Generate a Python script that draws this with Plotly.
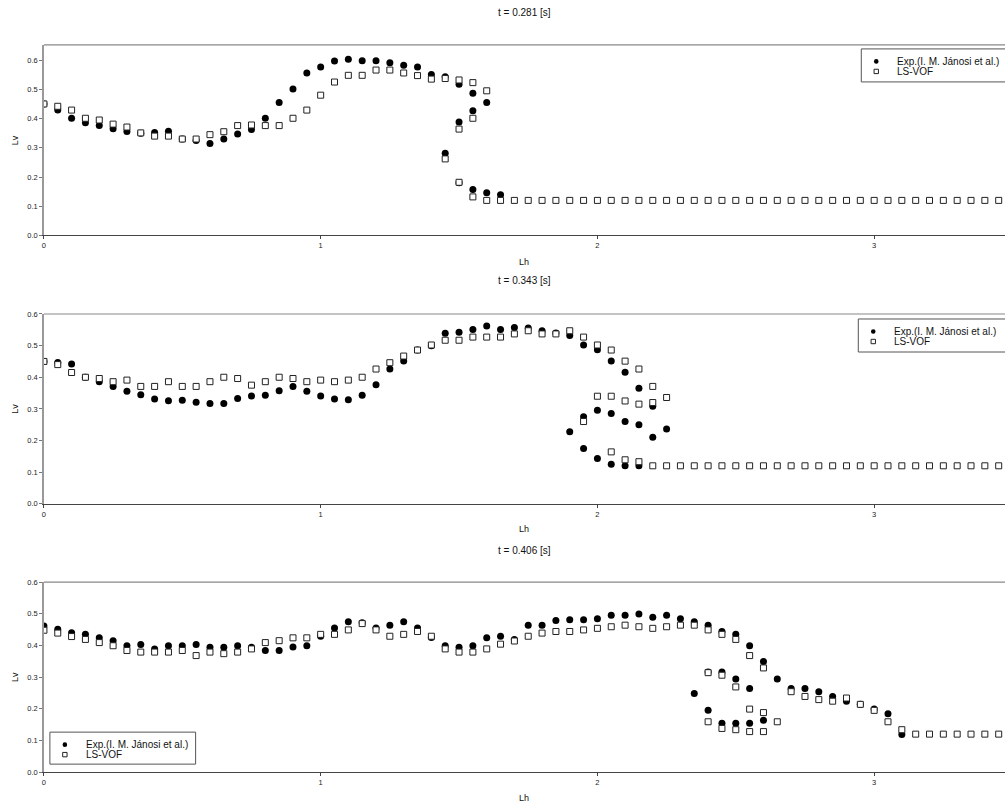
import plotly.graph_objects as go

# ---------------- t = 0.281 s ----------------
t1_exp_lh = [0.00, 0.05, 0.10, 0.15, 0.20, 0.25, 0.30, 0.35, 0.40, 0.45, 0.50, 0.55, 0.60, 0.65, 0.70, 0.75,
             0.80, 0.85, 0.90, 0.95, 1.00, 1.05, 1.10, 1.15, 1.20, 1.25, 1.30, 1.35, 1.40, 1.45, 1.50, 1.55, 1.60,
             1.55, 1.50, 1.45, 1.50, 1.55, 1.60, 1.65]
t1_exp_lv = [0.450, 0.429, 0.401, 0.386, 0.376, 0.365, 0.356, 0.350, 0.352, 0.357, 0.330, 0.325, 0.315, 0.330,
             0.347, 0.363, 0.401, 0.455, 0.501, 0.556, 0.576, 0.597, 0.603, 0.598, 0.598, 0.591, 0.582, 0.576,
             0.551, 0.543, 0.517, 0.487, 0.455,
             0.427, 0.388, 0.281, 0.180, 0.157, 0.146, 0.139]
t1_vof_lh = [0.00, 0.05, 0.10, 0.15, 0.20, 0.25, 0.30, 0.35, 0.40, 0.45, 0.50, 0.55, 0.60, 0.65, 0.70, 0.75,
             0.80, 0.85, 0.90, 0.95, 1.00, 1.05, 1.10, 1.15, 1.20, 1.25, 1.30, 1.35, 1.40, 1.45, 1.50, 1.55, 1.60,
             1.55, 1.50, 1.45, 1.50, 1.55,
             1.60, 1.65, 1.70, 1.75, 1.80, 1.85, 1.90, 1.95, 2.00, 2.05, 2.10, 2.15, 2.20, 2.25, 2.30, 2.35,
             2.40, 2.45, 2.50, 2.55, 2.60, 2.65, 2.70, 2.75, 2.80, 2.85, 2.90, 2.95, 3.00, 3.05, 3.10, 3.15,
             3.20, 3.25, 3.30, 3.35, 3.40, 3.45]
t1_vof_lv = [0.450, 0.442, 0.429, 0.401, 0.395, 0.381, 0.371, 0.351, 0.340, 0.340, 0.330, 0.330, 0.345, 0.355,
             0.376, 0.378, 0.376, 0.376, 0.401, 0.429, 0.480, 0.525, 0.548, 0.548, 0.566, 0.566, 0.556, 0.547,
             0.535, 0.537, 0.532, 0.523, 0.495,
             0.401, 0.364, 0.262, 0.182, 0.132,
             0.12, 0.12, 0.12, 0.12, 0.12, 0.12, 0.12, 0.12, 0.12, 0.12, 0.12, 0.12, 0.12, 0.12, 0.12, 0.12,
             0.12, 0.12, 0.12, 0.12, 0.12, 0.12, 0.12, 0.12, 0.12, 0.12, 0.12, 0.12, 0.12, 0.12, 0.12, 0.12,
             0.12, 0.12, 0.12, 0.12, 0.12, 0.12]

# ---------------- t = 0.343 s ----------------
t2_exp_lh = [0.00, 0.05, 0.10, 0.15, 0.20, 0.25, 0.30, 0.35, 0.40, 0.45, 0.50, 0.55, 0.60, 0.65, 0.70, 0.75,
             0.80, 0.85, 0.90, 0.95, 1.00, 1.05, 1.10, 1.15, 1.20, 1.25, 1.30, 1.35, 1.40, 1.45, 1.50, 1.55,
             1.60, 1.65, 1.70, 1.75, 1.80, 1.85, 1.90, 1.95, 2.00, 2.05, 2.10, 2.15, 2.20, 2.25,
             2.20, 2.15, 2.10, 2.05, 2.00, 1.95, 1.90,
             1.95, 2.00, 2.05, 2.10, 2.15]
t2_exp_lv = [0.450, 0.447, 0.442, 0.400, 0.386, 0.371, 0.356, 0.345, 0.331, 0.326, 0.327, 0.321, 0.317, 0.317,
             0.333, 0.341, 0.343, 0.357, 0.371, 0.356, 0.341, 0.331, 0.329, 0.343, 0.376, 0.426, 0.451, 0.486,
             0.500, 0.539, 0.542, 0.551, 0.562, 0.551, 0.557, 0.556, 0.547, 0.540, 0.532, 0.502, 0.487, 0.451,
             0.416, 0.365, 0.308, 0.236,
             0.210, 0.250, 0.260, 0.285, 0.296, 0.275, 0.228,
             0.175, 0.143, 0.125, 0.120, 0.120]
t2_vof_lh = [0.00, 0.05, 0.10, 0.15, 0.20, 0.25, 0.30, 0.35, 0.40, 0.45, 0.50, 0.55, 0.60, 0.65, 0.70, 0.75,
             0.80, 0.85, 0.90, 0.95, 1.00, 1.05, 1.10, 1.15, 1.20, 1.25, 1.30, 1.35, 1.40, 1.45, 1.50, 1.55,
             1.60, 1.65, 1.70, 1.75, 1.80, 1.85, 1.90, 1.95, 2.00, 2.05, 2.10, 2.15, 2.20, 2.25,
             2.20, 2.15, 2.10, 2.05, 2.00, 1.95,
             2.05, 2.10, 2.15,
             2.20, 2.25, 2.30, 2.35, 2.40, 2.45, 2.50, 2.55, 2.60, 2.65, 2.70, 2.75, 2.80, 2.85, 2.90, 2.95,
             3.00, 3.05, 3.10, 3.15, 3.20, 3.25, 3.30, 3.35, 3.40, 3.45]
t2_vof_lv = [0.450, 0.440, 0.415, 0.400, 0.396, 0.386, 0.391, 0.371, 0.371, 0.386, 0.371, 0.371, 0.386, 0.400,
             0.396, 0.375, 0.386, 0.400, 0.396, 0.386, 0.391, 0.386, 0.391, 0.400, 0.426, 0.446, 0.467, 0.486,
             0.502, 0.517, 0.517, 0.527, 0.527, 0.527, 0.537, 0.547, 0.537, 0.537, 0.547, 0.527, 0.502, 0.486,
             0.451, 0.426, 0.371, 0.336,
             0.320, 0.315, 0.325, 0.340, 0.340, 0.260,
             0.164, 0.139, 0.133,
             0.12, 0.12, 0.12, 0.12, 0.12, 0.12, 0.12, 0.12, 0.12, 0.12, 0.12, 0.12, 0.12, 0.12, 0.12, 0.12,
             0.12, 0.12, 0.12, 0.12, 0.12, 0.12, 0.12, 0.12, 0.12, 0.12]

# ---------------- t = 0.406 s ----------------
t3_exp_lh = [0.00, 0.05, 0.10, 0.15, 0.20, 0.25, 0.30, 0.35, 0.40, 0.45, 0.50, 0.55, 0.60, 0.65, 0.70, 0.75,
             0.80, 0.85, 0.90, 0.95, 1.00, 1.05, 1.10, 1.15, 1.20, 1.25, 1.30, 1.35, 1.40, 1.45, 1.50, 1.55,
             1.60, 1.65, 1.70, 1.75, 1.80, 1.85, 1.90, 1.95, 2.00, 2.05, 2.10, 2.15, 2.20, 2.25, 2.30, 2.35,
             2.40, 2.45, 2.50, 2.55, 2.60, 2.65, 2.70, 2.75, 2.80, 2.85, 2.90, 2.95, 3.00, 3.05, 3.10,
             2.55, 2.50, 2.45, 2.40, 2.35,
             2.40, 2.45, 2.50, 2.55, 2.60]
t3_exp_lv = [0.461, 0.451, 0.440, 0.435, 0.424, 0.415, 0.399, 0.403, 0.389, 0.399, 0.399, 0.403, 0.394, 0.394,
             0.399, 0.394, 0.384, 0.384, 0.395, 0.399, 0.429, 0.455, 0.475, 0.472, 0.455, 0.464, 0.475, 0.455,
             0.425, 0.399, 0.394, 0.399, 0.424, 0.429, 0.419, 0.464, 0.464, 0.479, 0.481, 0.481, 0.484, 0.495,
             0.495, 0.499, 0.489, 0.495, 0.484, 0.475, 0.464, 0.444, 0.435, 0.399, 0.349, 0.294, 0.264, 0.264,
             0.254, 0.239, 0.224, 0.214, 0.199, 0.184, 0.119,
             0.264, 0.294, 0.316, 0.316, 0.248,
             0.195, 0.154, 0.154, 0.154, 0.164]
t3_vof_lh = [0.00, 0.05, 0.10, 0.15, 0.20, 0.25, 0.30, 0.35, 0.40, 0.45, 0.50, 0.55, 0.60, 0.65, 0.70, 0.75,
             0.80, 0.85, 0.90, 0.95, 1.00, 1.05, 1.10, 1.15, 1.20, 1.25, 1.30, 1.35, 1.40, 1.45, 1.50, 1.55,
             1.60, 1.65, 1.70, 1.75, 1.80, 1.85, 1.90, 1.95, 2.00, 2.05, 2.10, 2.15, 2.20, 2.25, 2.30, 2.35,
             2.40, 2.45, 2.50, 2.55, 2.60, 2.70, 2.75, 2.80, 2.85, 2.90, 2.95, 3.00, 3.05, 3.10,
             2.65, 2.60, 2.55, 2.50, 2.45, 2.40,
             2.40, 2.45, 2.50, 2.55, 2.60,
             3.15, 3.20, 3.25, 3.30, 3.35, 3.40, 3.45]
t3_vof_lv = [0.448, 0.439, 0.428, 0.419, 0.409, 0.399, 0.384, 0.379, 0.379, 0.379, 0.384, 0.368, 0.379, 0.374,
             0.379, 0.389, 0.409, 0.415, 0.424, 0.424, 0.435, 0.435, 0.449, 0.469, 0.449, 0.429, 0.435, 0.444,
             0.429, 0.389, 0.379, 0.379, 0.389, 0.404, 0.414, 0.429, 0.439, 0.444, 0.444, 0.449, 0.454, 0.459,
             0.464, 0.459, 0.454, 0.459, 0.464, 0.464, 0.449, 0.435, 0.419, 0.368, 0.329, 0.254, 0.239, 0.229,
             0.224, 0.234, 0.214, 0.195, 0.159, 0.134,
             0.159, 0.188, 0.199, 0.269, 0.306, 0.314,
             0.159, 0.138, 0.134, 0.128, 0.128,
             0.12, 0.12, 0.12, 0.12, 0.12, 0.12, 0.12]

titles = ["t = 0.281 [s]", "t = 0.343 [s]", "t = 0.406 [s]"]
exp_name = "Exp.(I. M. Jánosi et al.)"
vof_name = "LS-VOF"
x_ticks = [0, 1, 2, 3]
y_ticks = [0.0, 0.1, 0.2, 0.3, 0.4, 0.5, 0.6]

panels = [
    (t1_exp_lh, t1_exp_lv, t1_vof_lh, t1_vof_lv),
    (t2_exp_lh, t2_exp_lv, t2_vof_lh, t2_vof_lv),
    (t3_exp_lh, t3_exp_lv, t3_vof_lh, t3_vof_lv),
]

W, H = 1005, 804
FONT = "Liberation Sans, Arial, sans-serif"
# pixel geometry of each plot area: (top, bottom)
rows_px = [(44, 234.5), (313, 502.7), (581, 771)]
y_ranges = [[0, 0.652], [0, 0.6], [0, 0.6]]
title_px = [12, 280, 549]
lh_px = [261, 528, 797]
# legend boxes in pixels: (left, top, right, bottom)
legend_px = [(861, 48, 1010, 81), (858, 318, 1010, 351), (48, 731, 194, 763)]
x_left = 42
x_dom = [x_left / W, 1.0]
x_range = [0, (W - x_left) / 277.3]

# vertical calibration of the screenshot (observed ≈ 0.9885*y + 3.1)
V_SCALE, V_OFF = 0.9885, 3.1


def px(xp):
    return xp / W


def vy(yp):
    return (yp - V_OFF) / V_SCALE


def py(yp):
    return 1 - vy(yp) / H


fig = go.Figure()

for k, (elh, elv, vlh, vlv) in enumerate(panels):
    xa = "x" if k == 0 else f"x{k+1}"
    ya = "y" if k == 0 else f"y{k+1}"
    fig.add_trace(go.Scatter(
        x=elh, y=elv, mode="markers", name=exp_name, xaxis=xa, yaxis=ya, showlegend=False,
        marker=dict(symbol="circle", size=7, color="black", line=dict(width=0)),
    ))
    fig.add_trace(go.Scatter(
        x=vlh, y=vlv, mode="markers", name=vof_name, xaxis=xa, yaxis=ya, showlegend=False,
        marker=dict(symbol="square", size=6, color="white", line=dict(width=1, color="#222")),
    ))

layout = dict(
    width=W, height=H, autosize=False,
    margin=dict(l=0, r=0, t=0, b=0, pad=0),
    paper_bgcolor="white", plot_bgcolor="white",
    font=dict(family=FONT, color="#111", size=9),
    showlegend=False,
)

annotations = []
shapes = []
for k in range(3):
    top, bot = rows_px[k]
    dom = [py(bot), py(top)]
    xkey = "xaxis" if k == 0 else f"xaxis{k+1}"
    ykey = "yaxis" if k == 0 else f"yaxis{k+1}"
    xa = "x" if k == 0 else f"x{k+1}"
    ya = "y" if k == 0 else f"y{k+1}"
    layout[xkey] = dict(
        domain=x_dom, range=x_range, anchor=ya,
        tickvals=x_ticks, ticktext=[str(v) for v in x_ticks],
        ticks="outside", ticklen=3, tickcolor="#444",
        showline=True, linecolor="#444", linewidth=1,
        showgrid=False, zeroline=False,
        tickfont=dict(size=7.5, family=FONT, color="#222"),
    )
    layout[ykey] = dict(
        domain=dom, range=y_ranges[k], anchor=xa,
        tickvals=y_ticks, ticktext=[f"{v:.1f}" for v in y_ticks],
        ticks="outside", ticklen=3, tickcolor="#777",
        showline=True, linecolor="#999", linewidth=1.5,
        showgrid=False, zeroline=False,
        tickfont=dict(size=7.5, family=FONT, color="#222"),
    )
    # top frame line
    shapes.append(dict(type="line", xref=xa + " domain", yref=ya + " domain",
                       x0=0, x1=1, y0=1, y1=1, line=dict(color="#888", width=1.2)))
    cx = (x_left + W) / 2 / W
    annotations.append(dict(text=titles[k], x=cx, y=py(title_px[k]), xref="paper", yref="paper",
                            showarrow=False, font=dict(size=10, family=FONT, color="#111"),
                            xanchor="center", yanchor="middle"))
    annotations.append(dict(text="Lh", x=cx, y=py(lh_px[k]), xref="paper", yref="paper",
                            showarrow=False, font=dict(size=9, family=FONT, color="#111"),
                            xanchor="center", yanchor="middle"))
    annotations.append(dict(text="Lv", x=px(13), y=py((top + bot) / 2), xref="paper", yref="paper",
                            showarrow=False, textangle=-90, font=dict(size=9, family=FONT, color="#111"),
                            xanchor="center", yanchor="middle"))

    # legend box (drawn as shapes + text)
    l, t, r, b = legend_px[k]
    shapes.append(dict(type="rect", xref="paper", yref="paper", x0=px(l), x1=px(r), y0=py(b), y1=py(t),
                       line=dict(color="#555", width=1), fillcolor="white", layer="above"))
    gx = l + 15
    row1 = t + 12.5
    row2 = t + 22.5
    shapes.append(dict(type="circle", xref="paper", yref="paper",
                       x0=px(gx - 2.3), x1=px(gx + 2.3), y0=py(row1 + 2.3), y1=py(row1 - 2.3),
                       line=dict(color="black", width=0), fillcolor="black", layer="above"))
    shapes.append(dict(type="rect", xref="paper", yref="paper",
                       x0=px(gx - 2.2), x1=px(gx + 2.2), y0=py(row2 + 2.2), y1=py(row2 - 2.2),
                       line=dict(color="#222", width=1), fillcolor="white", layer="above"))
    for txt, ry in ((exp_name, row1), (vof_name, row2)):
        annotations.append(dict(text=txt, x=px(l + 34), y=py(ry), xref="paper", yref="paper",
                                showarrow=False, font=dict(size=10, family=FONT, color="#111"),
                                xanchor="left", yanchor="middle"))

layout["annotations"] = annotations
layout["shapes"] = shapes

fig.update_layout(**layout)
fig.write_html(
    "out.html",
    config={"displayModeBar": False, "responsive": False},
    post_script="document.body.style.margin='0px';document.body.style.overflow='hidden';",
)
